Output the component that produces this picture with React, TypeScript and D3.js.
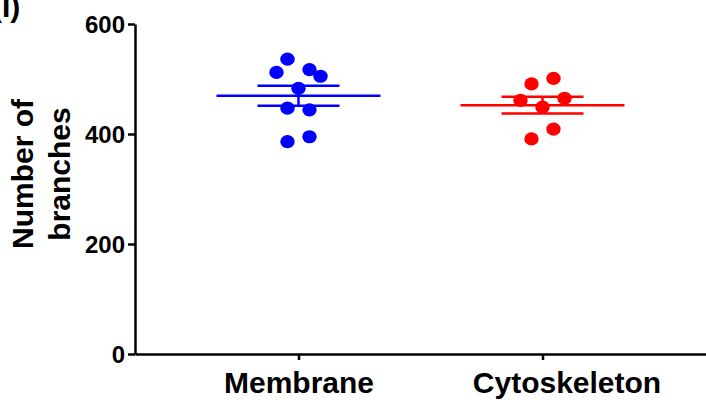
import React, { useEffect, useRef } from "react";
import * as d3 from "d3";

// groups on the x axis
const categories = ["Membrane", "Cytoskeleton"];
const groupColors = ["#0000ff", "#ff0000"];

// individual measurements (number of branches)
const membraneValues = [536, 512, 517, 505, 483, 447, 444, 386, 395];
const cytoskeletonValues = [491, 501, 461, 465, 449, 409, 391];

// horizontal jitter slot for each dot (so they don't overlap)
const membraneSlots = [-1, -2, 1, 2, 0, -1, 1, -1, 1];
const cytoskeletonSlots = [-1, 1, -2, 2, 0, 1, -1];

const yTicks = [0, 200, 400, 600];

export default function App() {
  const ref = useRef<SVGSVGElement>(null);

  useEffect(() => {
    const width = 706,
      height = 400;
    const svg = d3.select(ref.current);
    svg.selectAll("*").remove();

    const x = d3.scalePoint().domain(categories).range([135, 706]).padding(0.67);
    const y = d3.scaleLinear().domain([0, 600]).range([354, 24]);
    const step = 11; // jitter px

    const font = "'Liberation Sans', Arial, sans-serif";

    const groups = [
      { name: categories[0], values: membraneValues, slots: membraneSlots, color: groupColors[0] },
      { name: categories[1], values: cytoskeletonValues, slots: cytoskeletonSlots, color: groupColors[1] }
    ];

    groups.forEach(g => {
      const cx = x(g.name) as number;
      const mean = d3.mean(g.values) as number;
      const sem = (d3.deviation(g.values) as number) / Math.sqrt(g.values.length);
      const gg = svg.append("g").attr("stroke", g.color).attr("stroke-width", 2.5);

      // mean line
      gg.append("line")
        .attr("x1", cx - 82)
        .attr("x2", cx + 82)
        .attr("y1", y(mean))
        .attr("y2", y(mean));
      // sem caps
      [mean - sem, mean + sem].forEach(v => {
        gg.append("line")
          .attr("x1", cx - 41)
          .attr("x2", cx + 41)
          .attr("y1", y(v))
          .attr("y2", y(v));
      });
      gg.append("line")
        .attr("x1", cx)
        .attr("x2", cx)
        .attr("y1", y(mean - sem))
        .attr("y2", y(mean + sem));

      svg
        .append("g")
        .selectAll("ellipse")
        .data(g.values)
        .enter()
        .append("ellipse")
        .attr("cx", (d, i) => cx + g.slots[i] * step)
        .attr("cy", d => y(d))
        .attr("rx", 7.2)
        .attr("ry", 6.6)
        .attr("fill", g.color);
    });

    // y axis
    const yAxis = svg
      .append("g")
      .attr("transform", "translate(135,0)")
      .call(d3.axisLeft(y).tickValues(yTicks).tickSize(7).tickSizeOuter(0).tickPadding(3));
    yAxis.select(".domain").attr("stroke-width", 2.5).attr("stroke", "#000");
    yAxis.selectAll(".tick line").attr("stroke-width", 2.5).attr("stroke", "#000");
    yAxis
      .selectAll(".tick text")
      .attr("font-family", font)
      .attr("font-weight", "bold")
      .attr("font-size", 24)
      .attr("fill", "#000")
      .attr("dy", "0.36em");

    // x axis
    const xAxis = svg
      .append("g")
      .attr("transform", "translate(0,354)")
      .call(d3.axisBottom(x).tickSize(6).tickSizeOuter(0));
    xAxis.select(".domain").attr("stroke-width", 2.5).attr("stroke", "#000");
    xAxis.selectAll(".tick line").attr("stroke-width", 2.5).attr("stroke", "#000");
    xAxis
      .selectAll(".tick text")
      .attr("font-family", font)
      .attr("font-weight", "bold")
      .attr("font-size", 30)
      .attr("fill", "#000")
      .attr("y", 39)
      .attr("dy", 0)
      .attr("dx", (d, i) => (i === 1 ? 24 : 0));

    // y label
    const lbl = svg
      .append("text")
      .attr("transform", "translate(0,174) rotate(-90)")
      .attr("text-anchor", "middle")
      .attr("font-family", font)
      .attr("font-weight", "bold")
      .attr("font-size", 30)
      .attr("fill", "#000");
    lbl.append("tspan").attr("x", 0).attr("y", 33).text("Number of");
    lbl.append("tspan").attr("x", 0).attr("y", 70).text("branches");

    // panel letter
    svg
      .append("text")
      .attr("x", -8)
      .attr("y", 17)
      .attr("font-family", font)
      .attr("font-weight", "bold")
      .attr("font-size", 30)
      .attr("fill", "#000")
      .text("(I)");

    svg.attr("width", width).attr("height", height);
  }, []);

  return (
    <svg
      ref={ref}
      width={706}
      height={400}
      style={{ position: "absolute", left: 0, top: 0, background: "#fff" }}
    />
  );
}
